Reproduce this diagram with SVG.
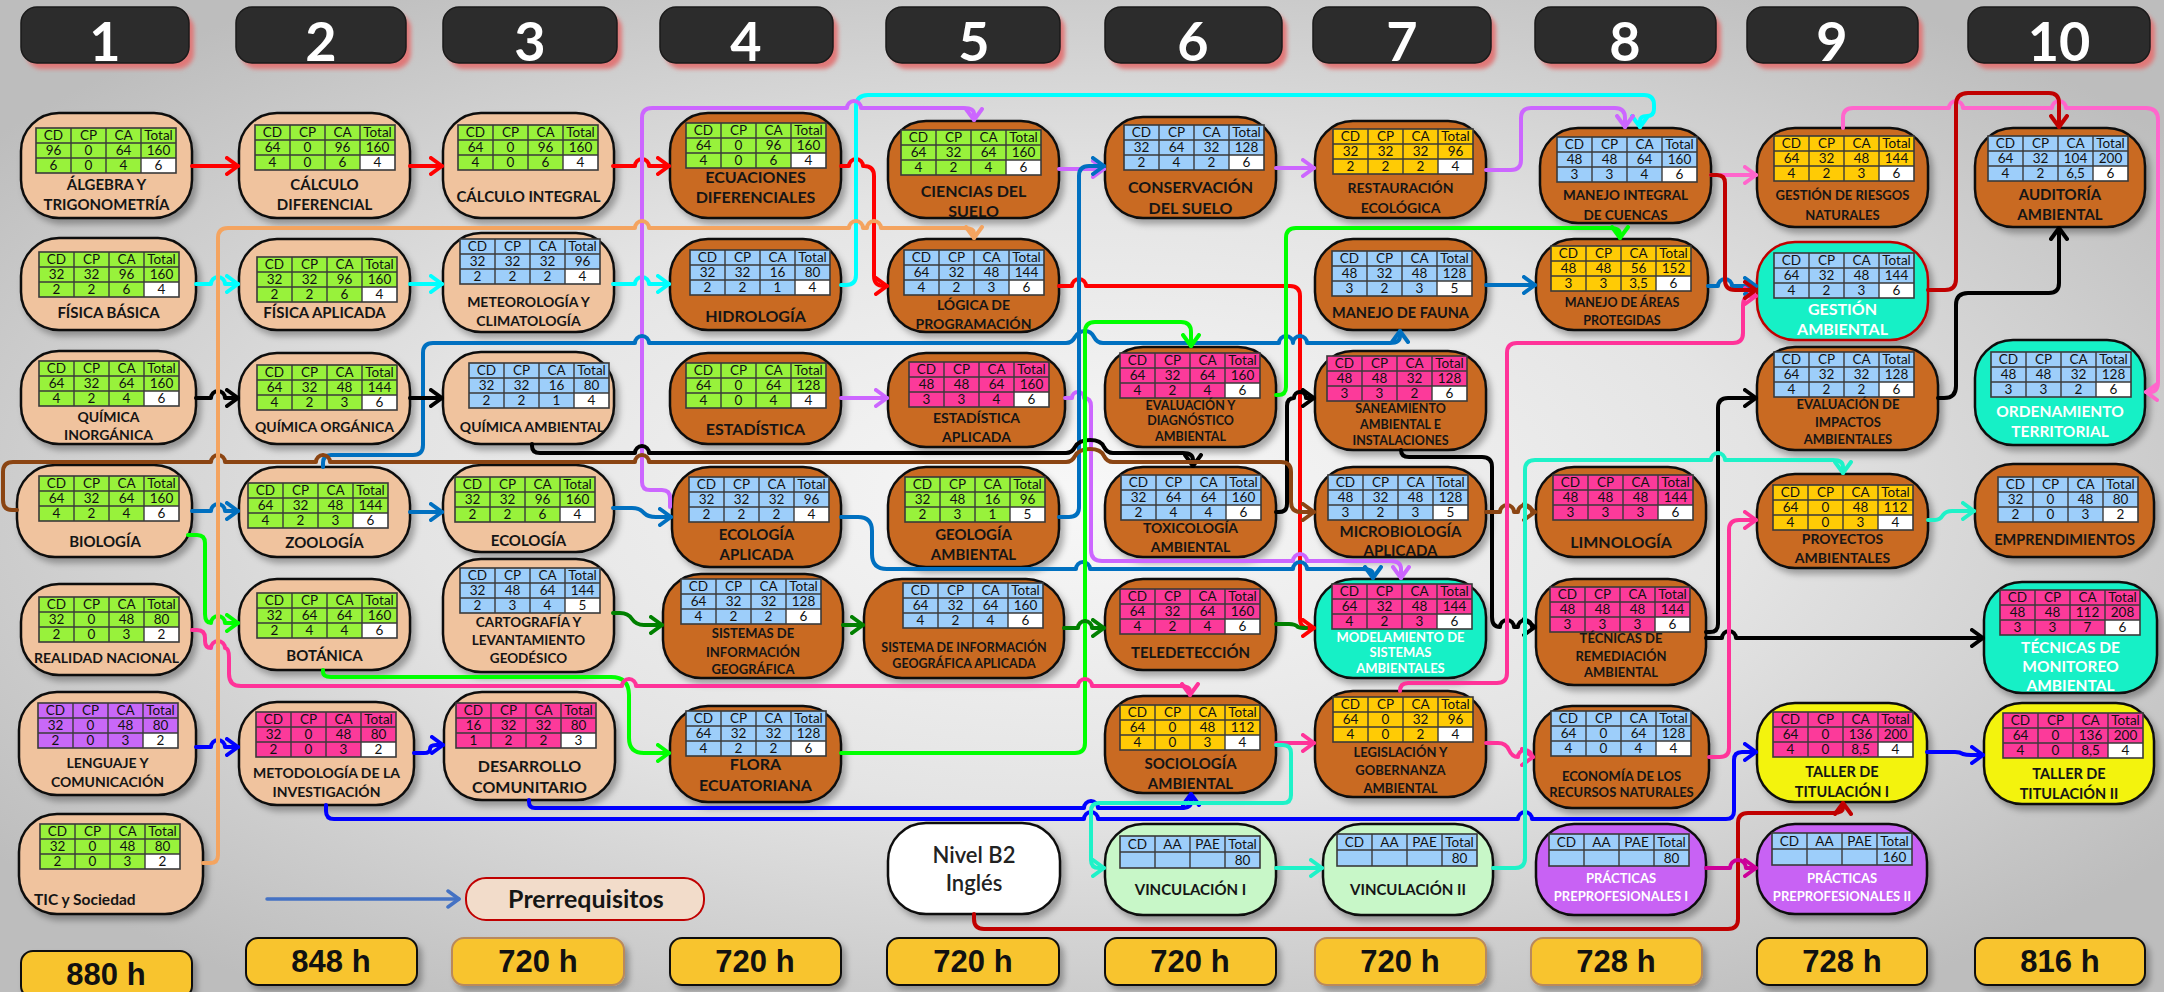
<svg xmlns="http://www.w3.org/2000/svg" width="2164" height="992" viewBox="0 0 2164 992">
<defs>
<radialGradient id="bg" cx="0.5" cy="0.5" r="0.62"><stop offset="0" stop-color="#f8f8f8"/><stop offset="0.5" stop-color="#e4e4e4"/><stop offset="1" stop-color="#bdbdbd"/></radialGradient>
<filter id="sh" x="-10%" y="-10%" width="130%" height="140%"><feDropShadow dx="4" dy="5" stdDeviation="3" flood-color="#000" flood-opacity="0.3"/></filter>
<filter id="hb" x="-10%" y="-20%" width="130%" height="160%"><feGaussianBlur stdDeviation="2"/></filter>
<g id="g3"><rect width="140" height="45" fill="none" stroke="#3a3a3a" stroke-width="1.6"/><path d="M35,0V45M70,0V45M105,0V45M0,15H140M0,30H140" stroke="#3a3a3a" stroke-width="1.4"/></g>
<g id="g2"><rect width="140" height="32" fill="none" stroke="#3a3a3a" stroke-width="1.6"/><path d="M35,0V32M70,0V32M105,0V32M0,16H140" stroke="#3a3a3a" stroke-width="1.4"/></g>
<marker id="mR" viewBox="0 0 16 20" refX="13" refY="10" markerWidth="16" markerHeight="20" markerUnits="userSpaceOnUse" orient="auto"><path d="M2,2L13,10L2,18" fill="none" stroke="#ff0000" stroke-width="4" stroke-linecap="round" stroke-linejoin="round"/></marker>
<marker id="mDR" viewBox="0 0 16 20" refX="13" refY="10" markerWidth="16" markerHeight="20" markerUnits="userSpaceOnUse" orient="auto"><path d="M2,2L13,10L2,18" fill="none" stroke="#c00000" stroke-width="4" stroke-linecap="round" stroke-linejoin="round"/></marker>
<marker id="mC" viewBox="0 0 16 20" refX="13" refY="10" markerWidth="16" markerHeight="20" markerUnits="userSpaceOnUse" orient="auto"><path d="M2,2L13,10L2,18" fill="none" stroke="#00ffff" stroke-width="4" stroke-linecap="round" stroke-linejoin="round"/></marker>
<marker id="mK" viewBox="0 0 16 20" refX="13" refY="10" markerWidth="16" markerHeight="20" markerUnits="userSpaceOnUse" orient="auto"><path d="M2,2L13,10L2,18" fill="none" stroke="#000000" stroke-width="4" stroke-linecap="round" stroke-linejoin="round"/></marker>
<marker id="mB" viewBox="0 0 16 20" refX="13" refY="10" markerWidth="16" markerHeight="20" markerUnits="userSpaceOnUse" orient="auto"><path d="M2,2L13,10L2,18" fill="none" stroke="#0070c0" stroke-width="4" stroke-linecap="round" stroke-linejoin="round"/></marker>
<marker id="mBB" viewBox="0 0 16 20" refX="13" refY="10" markerWidth="16" markerHeight="20" markerUnits="userSpaceOnUse" orient="auto"><path d="M2,2L13,10L2,18" fill="none" stroke="#0000ff" stroke-width="4" stroke-linecap="round" stroke-linejoin="round"/></marker>
<marker id="mV" viewBox="0 0 16 20" refX="13" refY="10" markerWidth="16" markerHeight="20" markerUnits="userSpaceOnUse" orient="auto"><path d="M2,2L13,10L2,18" fill="none" stroke="#cc66ff" stroke-width="4" stroke-linecap="round" stroke-linejoin="round"/></marker>
<marker id="mO" viewBox="0 0 16 20" refX="13" refY="10" markerWidth="16" markerHeight="20" markerUnits="userSpaceOnUse" orient="auto"><path d="M2,2L13,10L2,18" fill="none" stroke="#f4a460" stroke-width="4" stroke-linecap="round" stroke-linejoin="round"/></marker>
<marker id="mBr" viewBox="0 0 16 20" refX="13" refY="10" markerWidth="16" markerHeight="20" markerUnits="userSpaceOnUse" orient="auto"><path d="M2,2L13,10L2,18" fill="none" stroke="#8b4513" stroke-width="4" stroke-linecap="round" stroke-linejoin="round"/></marker>
<marker id="mG" viewBox="0 0 16 20" refX="13" refY="10" markerWidth="16" markerHeight="20" markerUnits="userSpaceOnUse" orient="auto"><path d="M2,2L13,10L2,18" fill="none" stroke="#00ff00" stroke-width="4" stroke-linecap="round" stroke-linejoin="round"/></marker>
<marker id="mDG" viewBox="0 0 16 20" refX="13" refY="10" markerWidth="16" markerHeight="20" markerUnits="userSpaceOnUse" orient="auto"><path d="M2,2L13,10L2,18" fill="none" stroke="#008000" stroke-width="4" stroke-linecap="round" stroke-linejoin="round"/></marker>
<marker id="mP" viewBox="0 0 16 20" refX="13" refY="10" markerWidth="16" markerHeight="20" markerUnits="userSpaceOnUse" orient="auto"><path d="M2,2L13,10L2,18" fill="none" stroke="#ff3399" stroke-width="4" stroke-linecap="round" stroke-linejoin="round"/></marker>
<marker id="mLP" viewBox="0 0 16 20" refX="13" refY="10" markerWidth="16" markerHeight="20" markerUnits="userSpaceOnUse" orient="auto"><path d="M2,2L13,10L2,18" fill="none" stroke="#ff66cc" stroke-width="4" stroke-linecap="round" stroke-linejoin="round"/></marker>
<marker id="mT" viewBox="0 0 16 20" refX="13" refY="10" markerWidth="16" markerHeight="20" markerUnits="userSpaceOnUse" orient="auto"><path d="M2,2L13,10L2,18" fill="none" stroke="#1ef2c8" stroke-width="4" stroke-linecap="round" stroke-linejoin="round"/></marker>
<marker id="mM" viewBox="0 0 16 20" refX="13" refY="10" markerWidth="16" markerHeight="20" markerUnits="userSpaceOnUse" orient="auto"><path d="M2,2L13,10L2,18" fill="none" stroke="#cc0099" stroke-width="4" stroke-linecap="round" stroke-linejoin="round"/></marker>
<marker id="mL" viewBox="0 0 16 20" refX="13" refY="10" markerWidth="16" markerHeight="20" markerUnits="userSpaceOnUse" orient="auto"><path d="M2,2L13,10L2,18" fill="none" stroke="#4472c4" stroke-width="3.5" stroke-linecap="round" stroke-linejoin="round"/></marker>
</defs>
<style>
.n{stroke:#111;stroke-width:2.5;filter:url(#sh)}
.pe{fill:#f0c39e}.br{fill:#c96b20}.te{fill:#19f0c6}.lg{fill:#c8f7c8}.pu{fill:#c862f4}.ye{fill:#f3f30e}.wh{fill:#ffffff}
.cg{fill:#98f23b}.cb{fill:#9dcefa}.cy{fill:#ffcb05}.cp{fill:#fc3a9a}.cv{fill:#c868f8}.w{fill:#ffffff}
.tg text{font-family:Lato,'Liberation Sans',sans-serif;font-size:13.5px;text-anchor:middle;fill:#111}
.lb{font-family:Lato,'Liberation Sans',sans-serif;font-weight:700;text-anchor:middle;fill:#151515}
.wt{fill:#ffffff}
.f12{font-size:12.5px}.f13{font-size:13px}.f135{font-size:13.5px}.f14{font-size:14px}.f145{font-size:14.5px}.f15{font-size:15px}.f155{font-size:15.5px}.f16{font-size:16px}
.hd{fill:#2c2c2c;stroke:#1a1a1a;stroke-width:1.5}
.hdsh{fill:#e07878;filter:url(#hb)}
.hn{font-family:Lato,'Liberation Sans',sans-serif;font-weight:700;font-size:54px;fill:#ffffff;text-anchor:middle}
.hr{fill:#f8c42e;stroke:#111;stroke-width:2;filter:url(#sh)}
.hr2{fill:#f8c42e;stroke:#b9895b;stroke-width:2;filter:url(#sh)}
.ht{font-family:'Liberation Sans',Arial,sans-serif;font-weight:700;font-size:31px;fill:#111;text-anchor:middle}
</style>
<rect width="2164" height="992" fill="url(#bg)"/>

<g id="headers">
<rect class="hdsh" x="26" y="13" width="168" height="56" rx="16"/><rect class="hd" x="21" y="7" width="168" height="56" rx="16"/><text class="hn" x="105" y="61">1</text>
<rect class="hdsh" x="241" y="13" width="170" height="56" rx="16"/><rect class="hd" x="236" y="7" width="170" height="56" rx="16"/><text class="hn" x="321" y="61">2</text>
<rect class="hdsh" x="448" y="13" width="174" height="56" rx="16"/><rect class="hd" x="443" y="7" width="174" height="56" rx="16"/><text class="hn" x="530" y="61">3</text>
<rect class="hdsh" x="665" y="13" width="173" height="56" rx="16"/><rect class="hd" x="660" y="7" width="173" height="56" rx="16"/><text class="hn" x="746" y="61">4</text>
<rect class="hdsh" x="891" y="13" width="174" height="56" rx="16"/><rect class="hd" x="886" y="7" width="174" height="56" rx="16"/><text class="hn" x="974" y="61">5</text>
<rect class="hdsh" x="1110" y="13" width="177" height="56" rx="16"/><rect class="hd" x="1105" y="7" width="177" height="56" rx="16"/><text class="hn" x="1193" y="61">6</text>
<rect class="hdsh" x="1318" y="13" width="178" height="56" rx="16"/><rect class="hd" x="1313" y="7" width="178" height="56" rx="16"/><text class="hn" x="1402" y="61">7</text>
<rect class="hdsh" x="1540" y="13" width="181" height="56" rx="16"/><rect class="hd" x="1535" y="7" width="181" height="56" rx="16"/><text class="hn" x="1625" y="61">8</text>
<rect class="hdsh" x="1752" y="13" width="171" height="56" rx="16"/><rect class="hd" x="1747" y="7" width="171" height="56" rx="16"/><text class="hn" x="1832" y="61">9</text>
<rect class="hdsh" x="1973" y="13" width="182" height="56" rx="16"/><rect class="hd" x="1968" y="7" width="182" height="56" rx="16"/><text class="hn" x="2059" y="61">10</text>
</g>

<g id="hours">
<rect class="hr" x="21" y="951" width="171" height="47" rx="12"/><text class="ht" x="106" y="985">880 h</text>
<rect class="hr" x="246" y="938" width="171" height="47" rx="12"/><text class="ht" x="331" y="972">848 h</text>
<rect class="hr2" x="452" y="938" width="172" height="47" rx="12"/><text class="ht" x="538" y="972">720 h</text>
<rect class="hr" x="670" y="938" width="171" height="47" rx="12"/><text class="ht" x="755" y="972">720 h</text>
<rect class="hr" x="887" y="938" width="172" height="47" rx="12"/><text class="ht" x="973" y="972">720 h</text>
<rect class="hr" x="1105" y="938" width="171" height="47" rx="12"/><text class="ht" x="1190" y="972">720 h</text>
<rect class="hr2" x="1315" y="938" width="171" height="47" rx="12"/><text class="ht" x="1400" y="972">720 h</text>
<rect class="hr2" x="1531" y="938" width="171" height="47" rx="12"/><text class="ht" x="1616" y="972">728 h</text>
<rect class="hr" x="1757" y="938" width="170" height="47" rx="12"/><text class="ht" x="1842" y="972">728 h</text>
<rect class="hr" x="1975" y="938" width="170" height="47" rx="12"/><text class="ht" x="2060" y="972">816 h</text>
</g>

<g id="legend">
<path d="M267,899H459" fill="none" stroke="#4472c4" stroke-width="3.5" stroke-linecap="round" marker-end="url(#mL)"/>
<rect x="466" y="878" width="238" height="42" rx="20" fill="#f2dcca" stroke="#c00000" stroke-width="2"/>
<text x="586" y="908" style="font-family:Lato,'Liberation Sans',sans-serif;font-weight:700;font-size:25px;fill:#151515;text-anchor:middle">Prerrequisitos</text>
</g>

<!-- Column 1 -->
<g id="n-algebra"><rect class="n pe" x="21" y="113" width="171" height="105" rx="38"/>
<g class="tg" transform="translate(36,128)"><rect class="cg" width="140" height="45"/><rect class="w" x="105" y="30" width="35" height="15"/><use href="#g3"/><text x="17.5" y="12">CD</text><text x="52.5" y="12">CP</text><text x="87.5" y="12">CA</text><text x="122.5" y="12">Total</text><text x="17.5" y="27">96</text><text x="52.5" y="27">0</text><text x="87.5" y="27">64</text><text x="122.5" y="27">160</text><text x="17.5" y="42">6</text><text x="52.5" y="42">0</text><text x="87.5" y="42">4</text><text x="122.5" y="42">6</text></g>
<text class="lb f15" x="106.5" y="190">ÁLGEBRA Y</text><text class="lb f15" x="106.5" y="210">TRIGONOMETRÍA</text></g>

<g id="n-fisica-basica"><rect class="n pe" x="21" y="238" width="175" height="92" rx="38"/>
<g class="tg" transform="translate(39,252)"><rect class="cg" width="140" height="45"/><rect class="w" x="105" y="30" width="35" height="15"/><use href="#g3"/><text x="17.5" y="12">CD</text><text x="52.5" y="12">CP</text><text x="87.5" y="12">CA</text><text x="122.5" y="12">Total</text><text x="17.5" y="27">32</text><text x="52.5" y="27">32</text><text x="87.5" y="27">96</text><text x="122.5" y="27">160</text><text x="17.5" y="42">2</text><text x="52.5" y="42">2</text><text x="87.5" y="42">6</text><text x="122.5" y="42">4</text></g>
<text class="lb f15" x="108.5" y="318">FÍSICA BÁSICA</text></g>

<g id="n-quimica-inorganica"><rect class="n pe" x="21" y="351" width="175" height="93" rx="38"/>
<g class="tg" transform="translate(39,361)"><rect class="cg" width="140" height="45"/><rect class="w" x="105" y="30" width="35" height="15"/><use href="#g3"/><text x="17.5" y="12">CD</text><text x="52.5" y="12">CP</text><text x="87.5" y="12">CA</text><text x="122.5" y="12">Total</text><text x="17.5" y="27">64</text><text x="52.5" y="27">32</text><text x="87.5" y="27">64</text><text x="122.5" y="27">160</text><text x="17.5" y="42">4</text><text x="52.5" y="42">2</text><text x="87.5" y="42">4</text><text x="122.5" y="42">6</text></g>
<text class="lb f14" x="108.5" y="422">QUÍMICA</text><text class="lb f14" x="108.5" y="440">INORGÁNICA</text></g>

<g id="n-biologia"><rect class="n pe" x="17" y="465" width="175" height="92" rx="38"/>
<g class="tg" transform="translate(39,476)"><rect class="cg" width="140" height="45"/><rect class="w" x="105" y="30" width="35" height="15"/><use href="#g3"/><text x="17.5" y="12">CD</text><text x="52.5" y="12">CP</text><text x="87.5" y="12">CA</text><text x="122.5" y="12">Total</text><text x="17.5" y="27">64</text><text x="52.5" y="27">32</text><text x="87.5" y="27">64</text><text x="122.5" y="27">160</text><text x="17.5" y="42">4</text><text x="52.5" y="42">2</text><text x="87.5" y="42">4</text><text x="122.5" y="42">6</text></g>
<text class="lb f15" x="105" y="547">BIOLOGÍA</text></g>

<g id="n-realidad-nacional"><rect class="n pe" x="21" y="584" width="171" height="91" rx="38"/>
<g class="tg" transform="translate(39,597)"><rect class="cg" width="140" height="45"/><rect class="w" x="105" y="30" width="35" height="15"/><use href="#g3"/><text x="17.5" y="12">CD</text><text x="52.5" y="12">CP</text><text x="87.5" y="12">CA</text><text x="122.5" y="12">Total</text><text x="17.5" y="27">32</text><text x="52.5" y="27">0</text><text x="87.5" y="27">48</text><text x="122.5" y="27">80</text><text x="17.5" y="42">2</text><text x="52.5" y="42">0</text><text x="87.5" y="42">3</text><text x="122.5" y="42">2</text></g>
<text class="lb f14" x="106.5" y="663">REALIDAD NACIONAL</text></g>

<g id="n-lenguaje"><rect class="n pe" x="19" y="692" width="177" height="103" rx="38"/>
<g class="tg" transform="translate(38,703)"><rect class="cv" width="140" height="45"/><rect class="w" x="105" y="30" width="35" height="15"/><use href="#g3"/><text x="17.5" y="12">CD</text><text x="52.5" y="12">CP</text><text x="87.5" y="12">CA</text><text x="122.5" y="12">Total</text><text x="17.5" y="27">32</text><text x="52.5" y="27">0</text><text x="87.5" y="27">48</text><text x="122.5" y="27">80</text><text x="17.5" y="42">2</text><text x="52.5" y="42">0</text><text x="87.5" y="42">3</text><text x="122.5" y="42">2</text></g>
<text class="lb f14" x="107.5" y="768">LENGUAJE Y</text><text class="lb f14" x="107.5" y="787">COMUNICACIÓN</text></g>

<g id="n-tic"><rect class="n pe" x="19" y="814" width="184" height="100" rx="38"/>
<g class="tg" transform="translate(40,824)"><rect class="cg" width="140" height="45"/><rect class="w" x="105" y="30" width="35" height="15"/><use href="#g3"/><text x="17.5" y="12">CD</text><text x="52.5" y="12">CP</text><text x="87.5" y="12">CA</text><text x="122.5" y="12">Total</text><text x="17.5" y="27">32</text><text x="52.5" y="27">0</text><text x="87.5" y="27">48</text><text x="122.5" y="27">80</text><text x="17.5" y="42">2</text><text x="52.5" y="42">0</text><text x="87.5" y="42">3</text><text x="122.5" y="42">2</text></g>
<text class="lb f155" x="34" y="905" style="text-anchor:start">TIC y Sociedad</text></g>

<!-- Column 2 -->
<g id="n-calculo-diferencial"><rect class="n pe" x="239" y="113" width="171" height="105" rx="38"/>
<g class="tg" transform="translate(255,125)"><rect class="cg" width="140" height="45"/><rect class="w" x="105" y="30" width="35" height="15"/><use href="#g3"/><text x="17.5" y="12">CD</text><text x="52.5" y="12">CP</text><text x="87.5" y="12">CA</text><text x="122.5" y="12">Total</text><text x="17.5" y="27">64</text><text x="52.5" y="27">0</text><text x="87.5" y="27">96</text><text x="122.5" y="27">160</text><text x="17.5" y="42">4</text><text x="52.5" y="42">0</text><text x="87.5" y="42">6</text><text x="122.5" y="42">4</text></g>
<text class="lb f15" x="324.5" y="190">CÁLCULO</text><text class="lb f15" x="324.5" y="210">DIFERENCIAL</text></g>

<g id="n-fisica-aplicada"><rect class="n pe" x="239" y="239" width="171" height="91" rx="38"/>
<g class="tg" transform="translate(257,257)"><rect class="cg" width="140" height="45"/><rect class="w" x="105" y="30" width="35" height="15"/><use href="#g3"/><text x="17.5" y="12">CD</text><text x="52.5" y="12">CP</text><text x="87.5" y="12">CA</text><text x="122.5" y="12">Total</text><text x="17.5" y="27">32</text><text x="52.5" y="27">32</text><text x="87.5" y="27">96</text><text x="122.5" y="27">160</text><text x="17.5" y="42">2</text><text x="52.5" y="42">2</text><text x="87.5" y="42">6</text><text x="122.5" y="42">4</text></g>
<text class="lb f15" x="324.5" y="318">FÍSICA APLICADA</text></g>

<g id="n-quimica-organica"><rect class="n pe" x="239" y="353" width="171" height="91" rx="38"/>
<g class="tg" transform="translate(257,365)"><rect class="cg" width="140" height="45"/><rect class="w" x="105" y="30" width="35" height="15"/><use href="#g3"/><text x="17.5" y="12">CD</text><text x="52.5" y="12">CP</text><text x="87.5" y="12">CA</text><text x="122.5" y="12">Total</text><text x="17.5" y="27">64</text><text x="52.5" y="27">32</text><text x="87.5" y="27">48</text><text x="122.5" y="27">144</text><text x="17.5" y="42">4</text><text x="52.5" y="42">2</text><text x="87.5" y="42">3</text><text x="122.5" y="42">6</text></g>
<text class="lb f14" x="324.5" y="432">QUÍMICA ORGÁNICA</text></g>

<g id="n-zoologia"><rect class="n pe" x="239" y="467" width="171" height="90" rx="38"/>
<g class="tg" transform="translate(248,483)"><rect class="cg" width="140" height="45"/><rect class="w" x="105" y="30" width="35" height="15"/><use href="#g3"/><text x="17.5" y="12">CD</text><text x="52.5" y="12">CP</text><text x="87.5" y="12">CA</text><text x="122.5" y="12">Total</text><text x="17.5" y="27">64</text><text x="52.5" y="27">32</text><text x="87.5" y="27">48</text><text x="122.5" y="27">144</text><text x="17.5" y="42">4</text><text x="52.5" y="42">2</text><text x="87.5" y="42">3</text><text x="122.5" y="42">6</text></g>
<text class="lb f15" x="324.5" y="548">ZOOLOGÍA</text></g>

<g id="n-botanica"><rect class="n pe" x="239" y="579" width="171" height="91" rx="38"/>
<g class="tg" transform="translate(257,593)"><rect class="cg" width="140" height="45"/><rect class="w" x="105" y="30" width="35" height="15"/><use href="#g3"/><text x="17.5" y="12">CD</text><text x="52.5" y="12">CP</text><text x="87.5" y="12">CA</text><text x="122.5" y="12">Total</text><text x="17.5" y="27">32</text><text x="52.5" y="27">64</text><text x="87.5" y="27">64</text><text x="122.5" y="27">160</text><text x="17.5" y="42">2</text><text x="52.5" y="42">4</text><text x="87.5" y="42">4</text><text x="122.5" y="42">6</text></g>
<text class="lb f15" x="324.5" y="661">BOTÁNICA</text></g>

<g id="n-metodologia"><rect class="n pe" x="239" y="702" width="175" height="103" rx="38"/>
<g class="tg" transform="translate(256,712)"><rect class="cp" width="140" height="45"/><rect class="w" x="105" y="30" width="35" height="15"/><use href="#g3"/><text x="17.5" y="12">CD</text><text x="52.5" y="12">CP</text><text x="87.5" y="12">CA</text><text x="122.5" y="12">Total</text><text x="17.5" y="27">32</text><text x="52.5" y="27">0</text><text x="87.5" y="27">48</text><text x="122.5" y="27">80</text><text x="17.5" y="42">2</text><text x="52.5" y="42">0</text><text x="87.5" y="42">3</text><text x="122.5" y="42">2</text></g>
<text class="lb f14" x="326.5" y="778">METODOLOGÍA DE LA</text><text class="lb f14" x="326.5" y="797">INVESTIGACIÓN</text></g>

<!-- Column 3 -->
<g id="n-calculo-integral"><rect class="n pe" x="443" y="113" width="171" height="105" rx="38"/>
<g class="tg" transform="translate(458,125)"><rect class="cg" width="140" height="45"/><rect class="w" x="105" y="30" width="35" height="15"/><use href="#g3"/><text x="17.5" y="12">CD</text><text x="52.5" y="12">CP</text><text x="87.5" y="12">CA</text><text x="122.5" y="12">Total</text><text x="17.5" y="27">64</text><text x="52.5" y="27">0</text><text x="87.5" y="27">96</text><text x="122.5" y="27">160</text><text x="17.5" y="42">4</text><text x="52.5" y="42">0</text><text x="87.5" y="42">6</text><text x="122.5" y="42">4</text></g>
<text class="lb f15" x="528.5" y="202">CÁLCULO INTEGRAL</text></g>

<g id="n-meteorologia"><rect class="n pe" x="443" y="233" width="171" height="99" rx="38"/>
<g class="tg" transform="translate(460,239)"><rect class="cb" width="140" height="45"/><rect class="w" x="105" y="30" width="35" height="15"/><use href="#g3"/><text x="17.5" y="12">CD</text><text x="52.5" y="12">CP</text><text x="87.5" y="12">CA</text><text x="122.5" y="12">Total</text><text x="17.5" y="27">32</text><text x="52.5" y="27">32</text><text x="87.5" y="27">32</text><text x="122.5" y="27">96</text><text x="17.5" y="42">2</text><text x="52.5" y="42">2</text><text x="87.5" y="42">2</text><text x="122.5" y="42">4</text></g>
<text class="lb f14" x="528.5" y="307">METEOROLOGÍA Y</text><text class="lb f14" x="528.5" y="326">CLIMATOLOGÍA</text></g>

<g id="n-quimica-ambiental"><rect class="n pe" x="443" y="352" width="171" height="92" rx="38"/>
<g class="tg" transform="translate(469,363)"><rect class="cb" width="140" height="45"/><rect class="w" x="105" y="30" width="35" height="15"/><use href="#g3"/><text x="17.5" y="12">CD</text><text x="52.5" y="12">CP</text><text x="87.5" y="12">CA</text><text x="122.5" y="12">Total</text><text x="17.5" y="27">32</text><text x="52.5" y="27">32</text><text x="87.5" y="27">16</text><text x="122.5" y="27">80</text><text x="17.5" y="42">2</text><text x="52.5" y="42">2</text><text x="87.5" y="42">1</text><text x="122.5" y="42">4</text></g>
<text class="lb f14" x="532" y="432">QUÍMICA AMBIENTAL</text></g>

<g id="n-ecologia"><rect class="n pe" x="443" y="465" width="171" height="87" rx="38"/>
<g class="tg" transform="translate(455,477)"><rect class="cg" width="140" height="45"/><rect class="w" x="105" y="30" width="35" height="15"/><use href="#g3"/><text x="17.5" y="12">CD</text><text x="52.5" y="12">CP</text><text x="87.5" y="12">CA</text><text x="122.5" y="12">Total</text><text x="17.5" y="27">32</text><text x="52.5" y="27">32</text><text x="87.5" y="27">96</text><text x="122.5" y="27">160</text><text x="17.5" y="42">2</text><text x="52.5" y="42">2</text><text x="87.5" y="42">6</text><text x="122.5" y="42">4</text></g>
<text class="lb f15" x="528.5" y="546">ECOLOGÍA</text></g>

<g id="n-cartografia"><rect class="n pe" x="443" y="559" width="171" height="113" rx="38"/>
<g class="tg" transform="translate(460,568)"><rect class="cb" width="140" height="45"/><rect class="w" x="105" y="30" width="35" height="15"/><use href="#g3"/><text x="17.5" y="12">CD</text><text x="52.5" y="12">CP</text><text x="87.5" y="12">CA</text><text x="122.5" y="12">Total</text><text x="17.5" y="27">32</text><text x="52.5" y="27">48</text><text x="87.5" y="27">64</text><text x="122.5" y="27">144</text><text x="17.5" y="42">2</text><text x="52.5" y="42">3</text><text x="87.5" y="42">4</text><text x="122.5" y="42">5</text></g>
<text class="lb f135" x="528.5" y="627">CARTOGRAFÍA Y</text><text class="lb f135" x="528.5" y="645">LEVANTAMIENTO</text><text class="lb f135" x="528.5" y="663">GEODÉSICO</text></g>

<g id="n-desarrollo-comunitario"><rect class="n pe" x="444" y="692" width="171" height="108" rx="38"/>
<g class="tg" transform="translate(456,703)"><rect class="cp" width="140" height="45"/><rect class="w" x="105" y="30" width="35" height="15"/><use href="#g3"/><text x="17.5" y="12">CD</text><text x="52.5" y="12">CP</text><text x="87.5" y="12">CA</text><text x="122.5" y="12">Total</text><text x="17.5" y="27">16</text><text x="52.5" y="27">32</text><text x="87.5" y="27">32</text><text x="122.5" y="27">80</text><text x="17.5" y="42">1</text><text x="52.5" y="42">2</text><text x="87.5" y="42">2</text><text x="122.5" y="42">3</text></g>
<text class="lb f16" x="529.5" y="772">DESARROLLO</text><text class="lb f16" x="529.5" y="793">COMUNITARIO</text></g>

<!-- Column 4 -->
<g id="n-ecuaciones"><rect class="n br" x="670" y="113" width="171" height="105" rx="38"/>
<g class="tg" transform="translate(686,123)"><rect class="cg" width="140" height="45"/><rect class="w" x="105" y="30" width="35" height="15"/><use href="#g3"/><text x="17.5" y="12">CD</text><text x="52.5" y="12">CP</text><text x="87.5" y="12">CA</text><text x="122.5" y="12">Total</text><text x="17.5" y="27">64</text><text x="52.5" y="27">0</text><text x="87.5" y="27">96</text><text x="122.5" y="27">160</text><text x="17.5" y="42">4</text><text x="52.5" y="42">0</text><text x="87.5" y="42">6</text><text x="122.5" y="42">4</text></g>
<text class="lb f16" x="755.5" y="183">ECUACIONES</text><text class="lb f16" x="755.5" y="203">DIFERENCIALES</text></g>

<g id="n-hidrologia"><rect class="n br" x="670" y="239" width="171" height="91" rx="38"/>
<g class="tg" transform="translate(690,250)"><rect class="cb" width="140" height="45"/><rect class="w" x="105" y="30" width="35" height="15"/><use href="#g3"/><text x="17.5" y="12">CD</text><text x="52.5" y="12">CP</text><text x="87.5" y="12">CA</text><text x="122.5" y="12">Total</text><text x="17.5" y="27">32</text><text x="52.5" y="27">32</text><text x="87.5" y="27">16</text><text x="122.5" y="27">80</text><text x="17.5" y="42">2</text><text x="52.5" y="42">2</text><text x="87.5" y="42">1</text><text x="122.5" y="42">4</text></g>
<text class="lb f16" x="755.5" y="322">HIDROLOGÍA</text></g>

<g id="n-estadistica"><rect class="n br" x="670" y="353" width="171" height="91" rx="38"/>
<g class="tg" transform="translate(686,363)"><rect class="cg" width="140" height="45"/><rect class="w" x="105" y="30" width="35" height="15"/><use href="#g3"/><text x="17.5" y="12">CD</text><text x="52.5" y="12">CP</text><text x="87.5" y="12">CA</text><text x="122.5" y="12">Total</text><text x="17.5" y="27">64</text><text x="52.5" y="27">0</text><text x="87.5" y="27">64</text><text x="122.5" y="27">128</text><text x="17.5" y="42">4</text><text x="52.5" y="42">0</text><text x="87.5" y="42">4</text><text x="122.5" y="42">4</text></g>
<text class="lb f16" x="755.5" y="435">ESTADÍSTICA</text></g>

<g id="n-ecologia-aplicada"><rect class="n br" x="672" y="467" width="169" height="100" rx="38"/>
<g class="tg" transform="translate(689,477)"><rect class="cb" width="140" height="45"/><rect class="w" x="105" y="30" width="35" height="15"/><use href="#g3"/><text x="17.5" y="12">CD</text><text x="52.5" y="12">CP</text><text x="87.5" y="12">CA</text><text x="122.5" y="12">Total</text><text x="17.5" y="27">32</text><text x="52.5" y="27">32</text><text x="87.5" y="27">32</text><text x="122.5" y="27">96</text><text x="17.5" y="42">2</text><text x="52.5" y="42">2</text><text x="87.5" y="42">2</text><text x="122.5" y="42">4</text></g>
<text class="lb f15" x="756.5" y="540">ECOLOGÍA</text><text class="lb f15" x="756.5" y="560">APLICADA</text></g>

<g id="n-sig"><rect class="n br" x="663" y="574" width="180" height="104" rx="38"/>
<g class="tg" transform="translate(681,579)"><rect class="cb" width="140" height="45"/><rect class="w" x="105" y="30" width="35" height="15"/><use href="#g3"/><text x="17.5" y="12">CD</text><text x="52.5" y="12">CP</text><text x="87.5" y="12">CA</text><text x="122.5" y="12">Total</text><text x="17.5" y="27">64</text><text x="52.5" y="27">32</text><text x="87.5" y="27">32</text><text x="122.5" y="27">128</text><text x="17.5" y="42">4</text><text x="52.5" y="42">2</text><text x="87.5" y="42">2</text><text x="122.5" y="42">6</text></g>
<text class="lb f13" x="753" y="638">SISTEMAS DE</text><text class="lb f13" x="753" y="657">INFORMACIÓN</text><text class="lb f13" x="753" y="674">GEOGRÁFICA</text></g>

<g id="n-flora"><rect class="n br" x="670" y="706" width="171" height="96" rx="38"/>
<g class="tg" transform="translate(686,711)"><rect class="cb" width="140" height="45"/><rect class="w" x="105" y="30" width="35" height="15"/><use href="#g3"/><text x="17.5" y="12">CD</text><text x="52.5" y="12">CP</text><text x="87.5" y="12">CA</text><text x="122.5" y="12">Total</text><text x="17.5" y="27">64</text><text x="52.5" y="27">32</text><text x="87.5" y="27">32</text><text x="122.5" y="27">128</text><text x="17.5" y="42">4</text><text x="52.5" y="42">2</text><text x="87.5" y="42">2</text><text x="122.5" y="42">6</text></g>
<text class="lb f16" x="755.5" y="770">FLORA</text><text class="lb f16" x="755.5" y="791">ECUATORIANA</text></g>

<!-- Column 5 -->
<g id="n-ciencias-suelo"><rect class="n br" x="888" y="121" width="171" height="97" rx="38"/>
<g class="tg" transform="translate(901,130)"><rect class="cg" width="140" height="45"/><rect class="w" x="105" y="30" width="35" height="15"/><use href="#g3"/><text x="17.5" y="12">CD</text><text x="52.5" y="12">CP</text><text x="87.5" y="12">CA</text><text x="122.5" y="12">Total</text><text x="17.5" y="27">64</text><text x="52.5" y="27">32</text><text x="87.5" y="27">64</text><text x="122.5" y="27">160</text><text x="17.5" y="42">4</text><text x="52.5" y="42">2</text><text x="87.5" y="42">4</text><text x="122.5" y="42">6</text></g>
<text class="lb f16" x="973.5" y="197">CIENCIAS DEL</text><text class="lb f16" x="973.5" y="217">SUELO</text></g>

<g id="n-logica"><rect class="n br" x="888" y="239" width="171" height="93" rx="38"/>
<g class="tg" transform="translate(904,250)"><rect class="cb" width="140" height="45"/><rect class="w" x="105" y="30" width="35" height="15"/><use href="#g3"/><text x="17.5" y="12">CD</text><text x="52.5" y="12">CP</text><text x="87.5" y="12">CA</text><text x="122.5" y="12">Total</text><text x="17.5" y="27">64</text><text x="52.5" y="27">32</text><text x="87.5" y="27">48</text><text x="122.5" y="27">144</text><text x="17.5" y="42">4</text><text x="52.5" y="42">2</text><text x="87.5" y="42">3</text><text x="122.5" y="42">6</text></g>
<text class="lb f14" x="973.5" y="310">LÓGICA DE</text><text class="lb f14" x="973.5" y="329">PROGRAMACIÓN</text></g>

<g id="n-estadistica-aplicada"><rect class="n br" x="888" y="353" width="177" height="94" rx="38"/>
<g class="tg" transform="translate(909,362)"><rect class="cp" width="140" height="45"/><rect class="w" x="105" y="30" width="35" height="15"/><use href="#g3"/><text x="17.5" y="12">CD</text><text x="52.5" y="12">CP</text><text x="87.5" y="12">CA</text><text x="122.5" y="12">Total</text><text x="17.5" y="27">48</text><text x="52.5" y="27">48</text><text x="87.5" y="27">64</text><text x="122.5" y="27">160</text><text x="17.5" y="42">3</text><text x="52.5" y="42">3</text><text x="87.5" y="42">4</text><text x="122.5" y="42">6</text></g>
<text class="lb f14" x="976.5" y="423">ESTADÍSTICA</text><text class="lb f14" x="976.5" y="442">APLICADA</text></g>

<g id="n-geologia"><rect class="n br" x="888" y="467" width="171" height="100" rx="38"/>
<g class="tg" transform="translate(905,477)"><rect class="cg" width="140" height="45"/><rect class="w" x="105" y="30" width="35" height="15"/><use href="#g3"/><text x="17.5" y="12">CD</text><text x="52.5" y="12">CP</text><text x="87.5" y="12">CA</text><text x="122.5" y="12">Total</text><text x="17.5" y="27">32</text><text x="52.5" y="27">48</text><text x="87.5" y="27">16</text><text x="122.5" y="27">96</text><text x="17.5" y="42">2</text><text x="52.5" y="42">3</text><text x="87.5" y="42">1</text><text x="122.5" y="42">5</text></g>
<text class="lb f15" x="973.5" y="540">GEOLOGÍA</text><text class="lb f15" x="973.5" y="560">AMBIENTAL</text></g>

<g id="n-sig-aplicada"><rect class="n br" x="864" y="579" width="200" height="99" rx="38"/>
<g class="tg" transform="translate(903,583)"><rect class="cb" width="140" height="45"/><rect class="w" x="105" y="30" width="35" height="15"/><use href="#g3"/><text x="17.5" y="12">CD</text><text x="52.5" y="12">CP</text><text x="87.5" y="12">CA</text><text x="122.5" y="12">Total</text><text x="17.5" y="27">64</text><text x="52.5" y="27">32</text><text x="87.5" y="27">64</text><text x="122.5" y="27">160</text><text x="17.5" y="42">4</text><text x="52.5" y="42">2</text><text x="87.5" y="42">4</text><text x="122.5" y="42">6</text></g>
<text class="lb f12" x="964" y="652">SISTEMA DE INFORMACIÓN</text><text class="lb f12" x="964" y="668">GEOGRÁFICA APLICADA</text></g>

<g id="n-nivel-b2"><rect class="n wh" x="888" y="823" width="172" height="91" rx="38"/>
<text x="974" y="863" style="font-family:Lato,'Liberation Sans',sans-serif;font-weight:600;font-size:22px;fill:#222;text-anchor:middle">Nivel B2</text>
<text x="974" y="891" style="font-family:Lato,'Liberation Sans',sans-serif;font-weight:600;font-size:22px;fill:#222;text-anchor:middle">Inglés</text></g>

<!-- Column 6 -->
<g id="n-conservacion"><rect class="n br" x="1105" y="117" width="171" height="101" rx="38"/>
<g class="tg" transform="translate(1124,125)"><rect class="cb" width="140" height="45"/><rect class="w" x="105" y="30" width="35" height="15"/><use href="#g3"/><text x="17.5" y="12">CD</text><text x="52.5" y="12">CP</text><text x="87.5" y="12">CA</text><text x="122.5" y="12">Total</text><text x="17.5" y="27">32</text><text x="52.5" y="27">64</text><text x="87.5" y="27">32</text><text x="122.5" y="27">128</text><text x="17.5" y="42">2</text><text x="52.5" y="42">4</text><text x="87.5" y="42">2</text><text x="122.5" y="42">6</text></g>
<text class="lb f16" x="1190.5" y="193">CONSERVACIÓN</text><text class="lb f16" x="1190.5" y="214">DEL SUELO</text></g>

<g id="n-evaluacion-diagnostico"><rect class="n br" x="1105" y="347" width="171" height="100" rx="38"/>
<g class="tg" transform="translate(1120,353)"><rect class="cp" width="140" height="45"/><rect class="w" x="105" y="30" width="35" height="15"/><use href="#g3"/><text x="17.5" y="12">CD</text><text x="52.5" y="12">CP</text><text x="87.5" y="12">CA</text><text x="122.5" y="12">Total</text><text x="17.5" y="27">64</text><text x="52.5" y="27">32</text><text x="87.5" y="27">64</text><text x="122.5" y="27">160</text><text x="17.5" y="42">4</text><text x="52.5" y="42">2</text><text x="87.5" y="42">4</text><text x="122.5" y="42">6</text></g>
<text class="lb f12" x="1190.5" y="410">EVALUACIÓN Y</text><text class="lb f12" x="1190.5" y="425">DIAGNÓSTICO</text><text class="lb f12" x="1190.5" y="441">AMBIENTAL</text></g>

<g id="n-toxicologia"><rect class="n br" x="1105" y="467" width="171" height="90" rx="38"/>
<g class="tg" transform="translate(1121,475)"><rect class="cb" width="140" height="45"/><rect class="w" x="105" y="30" width="35" height="15"/><use href="#g3"/><text x="17.5" y="12">CD</text><text x="52.5" y="12">CP</text><text x="87.5" y="12">CA</text><text x="122.5" y="12">Total</text><text x="17.5" y="27">32</text><text x="52.5" y="27">64</text><text x="87.5" y="27">64</text><text x="122.5" y="27">160</text><text x="17.5" y="42">2</text><text x="52.5" y="42">4</text><text x="87.5" y="42">4</text><text x="122.5" y="42">6</text></g>
<text class="lb f14" x="1190.5" y="533">TOXICOLOGÍA</text><text class="lb f14" x="1190.5" y="552">AMBIENTAL</text></g>

<g id="n-teledeteccion"><rect class="n br" x="1105" y="579" width="171" height="91" rx="38"/>
<g class="tg" transform="translate(1120,589)"><rect class="cp" width="140" height="45"/><rect class="w" x="105" y="30" width="35" height="15"/><use href="#g3"/><text x="17.5" y="12">CD</text><text x="52.5" y="12">CP</text><text x="87.5" y="12">CA</text><text x="122.5" y="12">Total</text><text x="17.5" y="27">64</text><text x="52.5" y="27">32</text><text x="87.5" y="27">64</text><text x="122.5" y="27">160</text><text x="17.5" y="42">4</text><text x="52.5" y="42">2</text><text x="87.5" y="42">4</text><text x="122.5" y="42">6</text></g>
<text class="lb f15" x="1190.5" y="658">TELEDETECCIÓN</text></g>

<g id="n-sociologia"><rect class="n br" x="1105" y="696" width="171" height="97" rx="38"/>
<g class="tg" transform="translate(1120,705)"><rect class="cy" width="140" height="45"/><rect class="w" x="105" y="30" width="35" height="15"/><use href="#g3"/><text x="17.5" y="12">CD</text><text x="52.5" y="12">CP</text><text x="87.5" y="12">CA</text><text x="122.5" y="12">Total</text><text x="17.5" y="27">64</text><text x="52.5" y="27">0</text><text x="87.5" y="27">48</text><text x="122.5" y="27">112</text><text x="17.5" y="42">4</text><text x="52.5" y="42">0</text><text x="87.5" y="42">3</text><text x="122.5" y="42">4</text></g>
<text class="lb f15" x="1190.5" y="769">SOCIOLOGÍA</text><text class="lb f15" x="1190.5" y="789">AMBIENTAL</text></g>

<g id="n-vinculacion-1"><rect class="n lg" x="1105" y="824" width="171" height="91" rx="38"/>
<g class="tg" transform="translate(1120,836)"><rect class="cb" width="140" height="32"/><use href="#g2"/><text x="17.5" y="13">CD</text><text x="52.5" y="13">AA</text><text x="87.5" y="13">PAE</text><text x="122.5" y="13">Total</text><text x="122.5" y="29">80</text></g>
<text class="lb f15" x="1190.5" y="895">VINCULACIÓN I</text></g>

<!-- Column 7 -->
<g id="n-restauracion"><rect class="n br" x="1315" y="121" width="171" height="97" rx="38"/>
<g class="tg" transform="translate(1333,129)"><rect class="cy" width="140" height="45"/><rect class="w" x="105" y="30" width="35" height="15"/><use href="#g3"/><text x="17.5" y="12">CD</text><text x="52.5" y="12">CP</text><text x="87.5" y="12">CA</text><text x="122.5" y="12">Total</text><text x="17.5" y="27">32</text><text x="52.5" y="27">32</text><text x="87.5" y="27">32</text><text x="122.5" y="27">96</text><text x="17.5" y="42">2</text><text x="52.5" y="42">2</text><text x="87.5" y="42">2</text><text x="122.5" y="42">4</text></g>
<text class="lb f14" x="1400.5" y="193">RESTAURACIÓN</text><text class="lb f14" x="1400.5" y="213">ECOLÓGICA</text></g>

<g id="n-manejo-fauna"><rect class="n br" x="1315" y="239" width="171" height="91" rx="38"/>
<g class="tg" transform="translate(1332,251)"><rect class="cb" width="140" height="45"/><rect class="w" x="105" y="30" width="35" height="15"/><use href="#g3"/><text x="17.5" y="12">CD</text><text x="52.5" y="12">CP</text><text x="87.5" y="12">CA</text><text x="122.5" y="12">Total</text><text x="17.5" y="27">48</text><text x="52.5" y="27">32</text><text x="87.5" y="27">48</text><text x="122.5" y="27">128</text><text x="17.5" y="42">3</text><text x="52.5" y="42">2</text><text x="87.5" y="42">3</text><text x="122.5" y="42">5</text></g>
<text class="lb f145" x="1400.5" y="318">MANEJO DE FAUNA</text></g>

<g id="n-saneamiento"><rect class="n br" x="1315" y="351" width="171" height="99" rx="38"/>
<g class="tg" transform="translate(1327,356)"><rect class="cp" width="140" height="45"/><rect class="w" x="105" y="30" width="35" height="15"/><use href="#g3"/><text x="17.5" y="12">CD</text><text x="52.5" y="12">CP</text><text x="87.5" y="12">CA</text><text x="122.5" y="12">Total</text><text x="17.5" y="27">48</text><text x="52.5" y="27">48</text><text x="87.5" y="27">32</text><text x="122.5" y="27">128</text><text x="17.5" y="42">3</text><text x="52.5" y="42">3</text><text x="87.5" y="42">2</text><text x="122.5" y="42">6</text></g>
<text class="lb f12" x="1400.5" y="413">SANEAMIENTO</text><text class="lb f12" x="1400.5" y="429">AMBIENTAL E</text><text class="lb f12" x="1400.5" y="445">INSTALACIONES</text></g>

<g id="n-microbiologia"><rect class="n br" x="1315" y="467" width="171" height="90" rx="38"/>
<g class="tg" transform="translate(1328,475)"><rect class="cb" width="140" height="45"/><rect class="w" x="105" y="30" width="35" height="15"/><use href="#g3"/><text x="17.5" y="12">CD</text><text x="52.5" y="12">CP</text><text x="87.5" y="12">CA</text><text x="122.5" y="12">Total</text><text x="17.5" y="27">48</text><text x="52.5" y="27">32</text><text x="87.5" y="27">48</text><text x="122.5" y="27">128</text><text x="17.5" y="42">3</text><text x="52.5" y="42">2</text><text x="87.5" y="42">3</text><text x="122.5" y="42">5</text></g>
<text class="lb f15" x="1400.5" y="537">MICROBIOLOGÍA</text><text class="lb f15" x="1400.5" y="556">APLICADA</text></g>

<g id="n-modelamiento"><rect class="n te" x="1315" y="579" width="171" height="99" rx="38"/>
<g class="tg" transform="translate(1332,584)"><rect class="cp" width="140" height="45"/><rect class="w" x="105" y="30" width="35" height="15"/><use href="#g3"/><text x="17.5" y="12">CD</text><text x="52.5" y="12">CP</text><text x="87.5" y="12">CA</text><text x="122.5" y="12">Total</text><text x="17.5" y="27">64</text><text x="52.5" y="27">32</text><text x="87.5" y="27">48</text><text x="122.5" y="27">144</text><text x="17.5" y="42">4</text><text x="52.5" y="42">2</text><text x="87.5" y="42">3</text><text x="122.5" y="42">6</text></g>
<text class="lb wt f13" x="1400.5" y="642">MODELAMIENTO DE</text><text class="lb wt f13" x="1400.5" y="657">SISTEMAS</text><text class="lb wt f13" x="1400.5" y="673">AMBIENTALES</text></g>

<g id="n-legislacion"><rect class="n br" x="1315" y="691" width="171" height="106" rx="38"/>
<g class="tg" transform="translate(1333,697)"><rect class="cy" width="140" height="45"/><rect class="w" x="105" y="30" width="35" height="15"/><use href="#g3"/><text x="17.5" y="12">CD</text><text x="52.5" y="12">CP</text><text x="87.5" y="12">CA</text><text x="122.5" y="12">Total</text><text x="17.5" y="27">64</text><text x="52.5" y="27">0</text><text x="87.5" y="27">32</text><text x="122.5" y="27">96</text><text x="17.5" y="42">4</text><text x="52.5" y="42">0</text><text x="87.5" y="42">2</text><text x="122.5" y="42">4</text></g>
<text class="lb f13" x="1400.5" y="757">LEGISLACIÓN Y</text><text class="lb f13" x="1400.5" y="775">GOBERNANZA</text><text class="lb f13" x="1400.5" y="793">AMBIENTAL</text></g>

<g id="n-vinculacion-2"><rect class="n lg" x="1323" y="824" width="170" height="91" rx="38"/>
<g class="tg" transform="translate(1337,834)"><rect class="cb" width="140" height="32"/><use href="#g2"/><text x="17.5" y="13">CD</text><text x="52.5" y="13">AA</text><text x="87.5" y="13">PAE</text><text x="122.5" y="13">Total</text><text x="122.5" y="29">80</text></g>
<text class="lb f15" x="1408" y="895">VINCULACIÓN II</text></g>

<!-- Column 8 -->
<g id="n-manejo-cuencas"><rect class="n br" x="1540" y="128" width="171" height="95" rx="38"/>
<g class="tg" transform="translate(1557,137)"><rect class="cb" width="140" height="45"/><rect class="w" x="105" y="30" width="35" height="15"/><use href="#g3"/><text x="17.5" y="12">CD</text><text x="52.5" y="12">CP</text><text x="87.5" y="12">CA</text><text x="122.5" y="12">Total</text><text x="17.5" y="27">48</text><text x="52.5" y="27">48</text><text x="87.5" y="27">64</text><text x="122.5" y="27">160</text><text x="17.5" y="42">3</text><text x="52.5" y="42">3</text><text x="87.5" y="42">4</text><text x="122.5" y="42">6</text></g>
<text class="lb f135" x="1625.5" y="200">MANEJO INTEGRAL</text><text class="lb f135" x="1625.5" y="220">DE CUENCAS</text></g>

<g id="n-areas-protegidas"><rect class="n br" x="1536" y="239" width="172" height="91" rx="38"/>
<g class="tg" transform="translate(1551,246)"><rect class="cy" width="140" height="45"/><rect class="w" x="105" y="30" width="35" height="15"/><use href="#g3"/><text x="17.5" y="12">CD</text><text x="52.5" y="12">CP</text><text x="87.5" y="12">CA</text><text x="122.5" y="12">Total</text><text x="17.5" y="27">48</text><text x="52.5" y="27">48</text><text x="87.5" y="27">56</text><text x="122.5" y="27">152</text><text x="17.5" y="42">3</text><text x="52.5" y="42">3</text><text x="87.5" y="42">3,5</text><text x="122.5" y="42">6</text></g>
<text class="lb f12" x="1622" y="307">MANEJO DE ÁREAS</text><text class="lb f12" x="1622" y="325">PROTEGIDAS</text></g>

<g id="n-limnologia"><rect class="n br" x="1536" y="467" width="170" height="90" rx="38"/>
<g class="tg" transform="translate(1553,475)"><rect class="cp" width="140" height="45"/><rect class="w" x="105" y="30" width="35" height="15"/><use href="#g3"/><text x="17.5" y="12">CD</text><text x="52.5" y="12">CP</text><text x="87.5" y="12">CA</text><text x="122.5" y="12">Total</text><text x="17.5" y="27">48</text><text x="52.5" y="27">48</text><text x="87.5" y="27">48</text><text x="122.5" y="27">144</text><text x="17.5" y="42">3</text><text x="52.5" y="42">3</text><text x="87.5" y="42">3</text><text x="122.5" y="42">6</text></g>
<text class="lb f16" x="1621" y="548">LIMNOLOGÍA</text></g>

<g id="n-remediacion"><rect class="n br" x="1536" y="579" width="170" height="106" rx="38"/>
<g class="tg" transform="translate(1550,587)"><rect class="cp" width="140" height="45"/><rect class="w" x="105" y="30" width="35" height="15"/><use href="#g3"/><text x="17.5" y="12">CD</text><text x="52.5" y="12">CP</text><text x="87.5" y="12">CA</text><text x="122.5" y="12">Total</text><text x="17.5" y="27">48</text><text x="52.5" y="27">48</text><text x="87.5" y="27">48</text><text x="122.5" y="27">144</text><text x="17.5" y="42">3</text><text x="52.5" y="42">3</text><text x="87.5" y="42">3</text><text x="122.5" y="42">6</text></g>
<text class="lb f13" x="1621" y="643">TÉCNICAS DE</text><text class="lb f13" x="1621" y="661">REMEDIACIÓN</text><text class="lb f13" x="1621" y="677">AMBIENTAL</text></g>

<g id="n-economia"><rect class="n br" x="1534" y="706" width="175" height="102" rx="38"/>
<g class="tg" transform="translate(1551,711)"><rect class="cb" width="140" height="45"/><rect class="w" x="105" y="30" width="35" height="15"/><use href="#g3"/><text x="17.5" y="12">CD</text><text x="52.5" y="12">CP</text><text x="87.5" y="12">CA</text><text x="122.5" y="12">Total</text><text x="17.5" y="27">64</text><text x="52.5" y="27">0</text><text x="87.5" y="27">64</text><text x="122.5" y="27">128</text><text x="17.5" y="42">4</text><text x="52.5" y="42">0</text><text x="87.5" y="42">4</text><text x="122.5" y="42">4</text></g>
<text class="lb f13" x="1621.5" y="781">ECONOMÍA DE LOS</text><text class="lb f13" x="1621.5" y="797">RECURSOS NATURALES</text></g>

<g id="n-practicas-1"><rect class="n pu" x="1536" y="824" width="170" height="91" rx="38"/>
<g class="tg" transform="translate(1549,834)"><rect class="cb" width="140" height="32"/><use href="#g2"/><text x="17.5" y="13">CD</text><text x="52.5" y="13">AA</text><text x="87.5" y="13">PAE</text><text x="122.5" y="13">Total</text><text x="122.5" y="29">80</text></g>
<text class="lb wt f13" x="1621" y="883">PRÁCTICAS</text><text class="lb wt f13" x="1621" y="901">PREPROFESIONALES I</text></g>

<!-- Column 9 -->
<g id="n-riesgos"><rect class="n br" x="1757" y="128" width="171" height="99" rx="38"/>
<g class="tg" transform="translate(1774,136)"><rect class="cy" width="140" height="45"/><rect class="w" x="105" y="30" width="35" height="15"/><use href="#g3"/><text x="17.5" y="12">CD</text><text x="52.5" y="12">CP</text><text x="87.5" y="12">CA</text><text x="122.5" y="12">Total</text><text x="17.5" y="27">64</text><text x="52.5" y="27">32</text><text x="87.5" y="27">48</text><text x="122.5" y="27">144</text><text x="17.5" y="42">4</text><text x="52.5" y="42">2</text><text x="87.5" y="42">3</text><text x="122.5" y="42">6</text></g>
<text class="lb f13" x="1842.5" y="200">GESTIÓN DE RIESGOS</text><text class="lb f13" x="1842.5" y="220">NATURALES</text></g>

<g id="n-gestion-ambiental"><rect class="n te" x="1757" y="242" width="171" height="98" rx="38" style="stroke:#c00000"/>
<g class="tg" transform="translate(1774,253)"><rect class="cb" width="140" height="45"/><rect class="w" x="105" y="30" width="35" height="15"/><use href="#g3"/><text x="17.5" y="12">CD</text><text x="52.5" y="12">CP</text><text x="87.5" y="12">CA</text><text x="122.5" y="12">Total</text><text x="17.5" y="27">64</text><text x="52.5" y="27">32</text><text x="87.5" y="27">48</text><text x="122.5" y="27">144</text><text x="17.5" y="42">4</text><text x="52.5" y="42">2</text><text x="87.5" y="42">3</text><text x="122.5" y="42">6</text></g>
<text class="lb wt f16" x="1842.5" y="315">GESTIÓN</text><text class="lb wt f16" x="1842.5" y="335">AMBIENTAL</text></g>

<g id="n-impactos"><rect class="n br" x="1757" y="347" width="181" height="103" rx="38"/>
<g class="tg" transform="translate(1774,352)"><rect class="cb" width="140" height="45"/><rect class="w" x="105" y="30" width="35" height="15"/><use href="#g3"/><text x="17.5" y="12">CD</text><text x="52.5" y="12">CP</text><text x="87.5" y="12">CA</text><text x="122.5" y="12">Total</text><text x="17.5" y="27">64</text><text x="52.5" y="27">32</text><text x="87.5" y="27">32</text><text x="122.5" y="27">128</text><text x="17.5" y="42">4</text><text x="52.5" y="42">2</text><text x="87.5" y="42">2</text><text x="122.5" y="42">6</text></g>
<text class="lb f13" x="1848" y="409">EVALUACIÓN DE</text><text class="lb f13" x="1848" y="427">IMPACTOS</text><text class="lb f13" x="1848" y="444">AMBIENTALES</text></g>

<g id="n-proyectos"><rect class="n br" x="1757" y="474" width="171" height="94" rx="38"/>
<g class="tg" transform="translate(1773,485)"><rect class="cy" width="140" height="45"/><rect class="w" x="105" y="30" width="35" height="15"/><use href="#g3"/><text x="17.5" y="12">CD</text><text x="52.5" y="12">CP</text><text x="87.5" y="12">CA</text><text x="122.5" y="12">Total</text><text x="17.5" y="27">64</text><text x="52.5" y="27">0</text><text x="87.5" y="27">48</text><text x="122.5" y="27">112</text><text x="17.5" y="42">4</text><text x="52.5" y="42">0</text><text x="87.5" y="42">3</text><text x="122.5" y="42">4</text></g>
<text class="lb f14" x="1842.5" y="544">PROYECTOS</text><text class="lb f14" x="1842.5" y="563">AMBIENTALES</text></g>

<g id="n-taller-1"><rect class="n ye" x="1757" y="703" width="170" height="99" rx="38"/>
<g class="tg" transform="translate(1773,712)"><rect class="cp" width="140" height="45"/><rect class="w" x="105" y="30" width="35" height="15"/><use href="#g3"/><text x="17.5" y="12">CD</text><text x="52.5" y="12">CP</text><text x="87.5" y="12">CA</text><text x="122.5" y="12">Total</text><text x="17.5" y="27">64</text><text x="52.5" y="27">0</text><text x="87.5" y="27">136</text><text x="122.5" y="27">200</text><text x="17.5" y="42">4</text><text x="52.5" y="42">0</text><text x="87.5" y="42">8,5</text><text x="122.5" y="42">4</text></g>
<text class="lb f145" x="1842" y="777">TALLER DE</text><text class="lb f145" x="1842" y="797">TITULACIÓN I</text></g>

<g id="n-practicas-2"><rect class="n pu" x="1757" y="824" width="170" height="90" rx="38"/>
<g class="tg" transform="translate(1772,833)"><rect class="cb" width="140" height="32"/><use href="#g2"/><text x="17.5" y="13">CD</text><text x="52.5" y="13">AA</text><text x="87.5" y="13">PAE</text><text x="122.5" y="13">Total</text><text x="122.5" y="29">160</text></g>
<text class="lb wt f13" x="1842" y="883">PRÁCTICAS</text><text class="lb wt f13" x="1842" y="901">PREPROFESIONALES II</text></g>

<!-- Column 10 -->
<g id="n-auditoria"><rect class="n br" x="1975" y="128" width="170" height="99" rx="38"/>
<g class="tg" transform="translate(1988,136)"><rect class="cb" width="140" height="45"/><rect class="w" x="105" y="30" width="35" height="15"/><use href="#g3"/><text x="17.5" y="12">CD</text><text x="52.5" y="12">CP</text><text x="87.5" y="12">CA</text><text x="122.5" y="12">Total</text><text x="17.5" y="27">64</text><text x="52.5" y="27">32</text><text x="87.5" y="27">104</text><text x="122.5" y="27">200</text><text x="17.5" y="42">4</text><text x="52.5" y="42">2</text><text x="87.5" y="42">6,5</text><text x="122.5" y="42">6</text></g>
<text class="lb f15" x="2060" y="200">AUDITORÍA</text><text class="lb f15" x="2060" y="220">AMBIENTAL</text></g>

<g id="n-ordenamiento"><rect class="n te" x="1975" y="340" width="170" height="105" rx="38"/>
<g class="tg" transform="translate(1991,352)"><rect class="cb" width="140" height="45"/><rect class="w" x="105" y="30" width="35" height="15"/><use href="#g3"/><text x="17.5" y="12">CD</text><text x="52.5" y="12">CP</text><text x="87.5" y="12">CA</text><text x="122.5" y="12">Total</text><text x="17.5" y="27">48</text><text x="52.5" y="27">48</text><text x="87.5" y="27">32</text><text x="122.5" y="27">128</text><text x="17.5" y="42">3</text><text x="52.5" y="42">3</text><text x="87.5" y="42">2</text><text x="122.5" y="42">6</text></g>
<text class="lb wt f155" x="2060" y="417">ORDENAMIENTO</text><text class="lb wt f155" x="2060" y="437">TERRITORIAL</text></g>

<g id="n-emprendimientos"><rect class="n br" x="1975" y="464" width="179" height="93" rx="38"/>
<g class="tg" transform="translate(1998,477)"><rect class="cb" width="140" height="45"/><rect class="w" x="105" y="30" width="35" height="15"/><use href="#g3"/><text x="17.5" y="12">CD</text><text x="52.5" y="12">CP</text><text x="87.5" y="12">CA</text><text x="122.5" y="12">Total</text><text x="17.5" y="27">32</text><text x="52.5" y="27">0</text><text x="87.5" y="27">48</text><text x="122.5" y="27">80</text><text x="17.5" y="42">2</text><text x="52.5" y="42">0</text><text x="87.5" y="42">3</text><text x="122.5" y="42">2</text></g>
<text class="lb f145" x="2064.5" y="545">EMPRENDIMIENTOS</text></g>

<g id="n-monitoreo"><rect class="n te" x="1984" y="582" width="173" height="111" rx="38"/>
<g class="tg" transform="translate(2000,590)"><rect class="cp" width="140" height="45"/><rect class="w" x="105" y="30" width="35" height="15"/><use href="#g3"/><text x="17.5" y="12">CD</text><text x="52.5" y="12">CP</text><text x="87.5" y="12">CA</text><text x="122.5" y="12">Total</text><text x="17.5" y="27">48</text><text x="52.5" y="27">48</text><text x="87.5" y="27">112</text><text x="122.5" y="27">208</text><text x="17.5" y="42">3</text><text x="52.5" y="42">3</text><text x="87.5" y="42">7</text><text x="122.5" y="42">6</text></g>
<text class="lb wt f155" x="2070.5" y="653">TÉCNICAS DE</text><text class="lb wt f155" x="2070.5" y="672">MONITOREO</text><text class="lb wt f155" x="2070.5" y="691">AMBIENTAL</text></g>

<g id="n-taller-2"><rect class="n ye" x="1984" y="703" width="170" height="101" rx="38"/>
<g class="tg" transform="translate(2003,713)"><rect class="cp" width="140" height="45"/><rect class="w" x="105" y="30" width="35" height="15"/><use href="#g3"/><text x="17.5" y="12">CD</text><text x="52.5" y="12">CP</text><text x="87.5" y="12">CA</text><text x="122.5" y="12">Total</text><text x="17.5" y="27">64</text><text x="52.5" y="27">0</text><text x="87.5" y="27">136</text><text x="122.5" y="27">200</text><text x="17.5" y="42">4</text><text x="52.5" y="42">0</text><text x="87.5" y="42">8,5</text><text x="122.5" y="42">4</text></g>
<text class="lb f145" x="2069" y="779">TALLER DE</text><text class="lb f145" x="2069" y="799">TITULACIÓN II</text></g>

<g id="connectors" fill="none" stroke-width="4" stroke-linecap="round" stroke-linejoin="round">
<path stroke="#ff0000" marker-end="url(#mR)" d="M192,166H238"/>
<path stroke="#ff0000" marker-end="url(#mR)" d="M410,166H442"/>
<path stroke="#ff0000" marker-end="url(#mR)" d="M613,166H635a7,7 0 0 1 14,0H669"/>
<path stroke="#ff0000" marker-end="url(#mR)" d="M841,166H849a7,7 0 0 1 14,0H864Q874,166 874,176V276Q874,286 884,286H887"/>
<path stroke="#ff0000" marker-end="url(#mR)" d="M1059,286H1072a7,7 0 0 1 14,0H1290Q1300,286 1300,296V618Q1300,628 1308,628H1314"/>
<path stroke="#00ffff" marker-end="url(#mC)" d="M196,284H211a7,7 0 0 1 14,0H238"/>
<path stroke="#00ffff" marker-end="url(#mC)" d="M410,284H442"/>
<path stroke="#00ffff" marker-end="url(#mC)" d="M613,284H635a7,7 0 0 1 14,0H669"/>
<path stroke="#00ffff" marker-end="url(#mC)" d="M841,285H846Q856,285 856,275V107Q856,95 868,95H1644Q1654,95 1654,105V109Q1654,116 1647,116Q1640,116 1640,121V127"/>
<path stroke="#cc66ff" marker-end="url(#mV)" d="M670,507V498Q670,490 662,490H650Q642,490 642,482V118Q642,108 652,108H847a7,7 0 0 1 14,0H964Q974,108 974,114V120"/>
<path stroke="#cc66ff" marker-end="url(#mV)" d="M1059,169H1104"/>
<path stroke="#cc66ff" marker-end="url(#mV)" d="M1276,168H1314"/>
<path stroke="#cc66ff" marker-end="url(#mV)" d="M1486,170H1511Q1521,170 1521,160V118Q1521,108 1531,108H1615Q1625,108 1625,118V127"/>
<path stroke="#cc66ff" marker-end="url(#mV)" d="M841,398H887"/>
<path stroke="#cc66ff" marker-end="url(#mV)" d="M1065,398H1072a6,6 0 0 1 12,0Q1091,398 1091,406V550Q1091,561 1102,561H1293a7,7 0 0 1 14,0H1391Q1401,561 1401,569V578"/>
<path stroke="#0070c0" marker-end="url(#mB)" d="M1059,517H1069Q1079,517 1079,507V176Q1079,166 1089,166H1104"/>
<path stroke="#0070c0" marker-end="url(#mB)" d="M192,511H211a7,7 0 0 1 14,0H238"/>
<path stroke="#0070c0" marker-end="url(#mB)" d="M410,512H442"/>
<path stroke="#0070c0" marker-end="url(#mB)" d="M613,508H632Q640,508 644,513Q648,517 656,517H671"/>
<path stroke="#0070c0" marker-end="url(#mB)" d="M323,467V463Q323,455 331,455H413Q423,455 423,445V353Q423,343 433,343H635a7,7 0 0 1 14,0H1066Q1072,343 1075,337Q1079,331 1085,331Q1091,331 1094,337Q1097,343 1103,343H1279a7,7 0 0 1 14,0a7,7 0 0 1 14,0H1390Q1400,343 1400,336V331"/>
<path stroke="#0070c0" marker-end="url(#mB)" d="M841,517H858Q872,517 872,531V554Q872,569 887,569H1076a7,7 0 0 1 14,0H1293a7,7 0 0 1 14,0H1363Q1373,569 1373,574V578"/>
<path stroke="#0070c0" marker-end="url(#mB)" d="M1486,285H1535"/>
<path stroke="#0070c0" marker-end="url(#mB)" d="M1708,286H1718a7,7 0 0 1 14,0H1756"/>
<path stroke="#000" marker-end="url(#mK)" d="M196,398H211a7,7 0 0 1 14,0H238"/>
<path stroke="#000" marker-end="url(#mK)" d="M410,398H442"/>
<path stroke="#000" marker-end="url(#mK)" d="M532,444V446Q532,453 540,453H635a7,7 0 0 1 14,0H1066Q1072,453 1075,447Q1079,440 1090,440Q1101,440 1104,447Q1107,453 1113,453H1183Q1193,453 1193,460V466"/>
<path stroke="#000" marker-end="url(#mK)" d="M1276,512H1279Q1287,512 1287,504V406Q1287,398 1294,398a6,6 0 0 1 12,0H1314"/>
<path stroke="#000" marker-end="url(#mK)" d="M1401,450Q1401,457 1409,457H1482Q1492,457 1492,467V617Q1492,627 1500,627a7,7 0 0 1 14,0H1518a7,7 0 0 1 14,0H1535"/>
<path stroke="#000" marker-end="url(#mK)" d="M1706,632H1710Q1718,632 1718,624V408Q1718,398 1728,398H1756"/>
<path stroke="#000" marker-end="url(#mK)" d="M1706,638H1722a7,7 0 0 1 14,0H1983"/>
<path stroke="#000" marker-end="url(#mK)" d="M1938,398H1944Q1956,398 1956,386V305Q1956,293 1968,293H2049Q2059,293 2059,283V228"/>
<path stroke="#8b4513" marker-end="url(#mBr)" d="M17,510H12Q3,510 3,500V472Q3,462 13,462H211a7,7 0 0 1 14,0H316a7,7 0 0 1 14,0H635a7,7 0 0 1 14,0H1066Q1072,462 1075,456Q1079,449 1090,449Q1101,449 1104,456Q1107,462 1113,462H1281Q1291,462 1291,472V502Q1291,512 1301,512H1314"/>
<path stroke="#8b4513" marker-end="url(#mBr)" d="M1486,512H1500a7,7 0 0 1 14,0H1518a7,7 0 0 1 14,0H1535"/>
<path stroke="#00ff00" marker-end="url(#mG)" d="M188,535H197Q205,535 205,543V614Q205,623 211,623a7,7 0 0 1 14,0H238"/>
<path stroke="#00ff00" marker-end="url(#mG)" d="M323,670V672Q323,677 331,677H611Q629,677 629,695V738Q629,753 644,753H669"/>
<path stroke="#00ff00" marker-end="url(#mG)" d="M841,753H1075Q1085,753 1085,743V332Q1085,322 1095,322H1181Q1191,322 1191,332V346"/>
<path stroke="#00ff00" marker-end="url(#mG)" d="M1276,395H1278Q1286,395 1286,387V238Q1286,228 1296,228H1610Q1620,228 1620,234V238"/>
<path stroke="#008000" marker-end="url(#mDG)" d="M613,613H620Q628,613 632,619Q636,625 644,625H662"/>
<path stroke="#008000" marker-end="url(#mDG)" d="M843,625H863"/>
<path stroke="#008000" marker-end="url(#mDG)" d="M1064,628H1078a7,7 0 0 1 14,0H1104"/>
<path stroke="#008000" d="M1276,624H1289Q1295,624 1298,627Q1300,628 1306,628"/>
<path stroke="#ff3399" marker-end="url(#mP)" d="M192,630H197Q205,630 205,638V641Q205,648 211,648a7,7 0 0 1 14,0Q229,648 229,658V674Q229,686 241,686H622a7,7 0 0 1 14,0H1078a7,7 0 0 1 14,0H1180Q1190,686 1190,691V695"/>
<path stroke="#ff3399" marker-end="url(#mP)" d="M1276,743H1314"/>
<path stroke="#ff3399" marker-end="url(#mP)" d="M1400,691Q1400,683 1408,683H1497Q1507,683 1507,673V353Q1507,343 1517,343H1733Q1743,343 1743,333V306Q1743,296 1750,296H1756"/>
<path stroke="#ff3399" marker-end="url(#mP)" d="M1709,757H1720Q1729,757 1729,748V530Q1729,520 1739,520H1756"/>
<path stroke="#ff3399" marker-end="url(#mP)" d="M1486,743H1498Q1506,743 1509,750Q1512,757 1518,757a7,7 0 0 1 14,0H1533"/>
<path stroke="#ff66cc" marker-end="url(#mLP)" d="M1711,175H1756"/>
<path stroke="#ff66cc" marker-end="url(#mLP)" d="M1843,128V118Q1843,108 1853,108H1949a7,7 0 0 1 14,0H2052a7,7 0 0 1 14,0H2146Q2158,108 2158,120V382Q2158,392 2150,392H2146"/>
<path stroke="#c00000" marker-end="url(#mDR)" d="M1711,175H1717Q1725,175 1725,183V280Q1725,290 1735,290H1756"/>
<path stroke="#c00000" marker-end="url(#mDR)" d="M1928,290H1945Q1956,290 1956,279V105Q1956,93 1968,93H2049Q2059,93 2059,103V127"/>
<path stroke="#c00000" marker-end="url(#mDR)" d="M974,914V919Q974,929 984,929H1728Q1738,929 1738,919V823Q1738,813 1748,813H1833Q1843,813 1843,808V803"/>
<path stroke="#0000ff" marker-end="url(#mBB)" d="M196,747H211a7,7 0 0 1 14,0H238"/>
<path stroke="#0000ff" marker-end="url(#mBB)" d="M414,753H424Q430,753 430,749Q430,745 436,745H443"/>
<path stroke="#0000ff" marker-end="url(#mBB)" d="M326,805V811Q326,819 334,819H1084a7,7 0 0 1 14,0H1518a7,7 0 0 1 14,0H1726Q1734,819 1734,811V760Q1734,752 1742,752H1756"/>
<path stroke="#0000ff" marker-end="url(#mBB)" d="M529,800V802Q529,808 535,808H1084a7,7 0 0 1 14,0H1181Q1191,808 1191,802V794"/>
<path stroke="#0000ff" marker-end="url(#mBB)" d="M1927,752H1955Q1960,752 1963,754Q1966,755 1971,755H1983"/>
<path stroke="#f4a460" marker-end="url(#mO)" d="M203,863H210Q218,863 218,855V238Q218,228 228,228H635a7,7 0 0 1 14,0H849a7,7 0 0 1 14,0H867a7,7 0 0 1 14,0H964Q974,228 974,233V238"/>
<path stroke="#1ef2c8" marker-end="url(#mT)" d="M1276,745H1283Q1291,745 1291,753V795Q1291,803 1283,803H1099Q1091,803 1091,811V860Q1091,868 1099,868H1104"/>
<path stroke="#1ef2c8" marker-end="url(#mT)" d="M1276,868H1322"/>
<path stroke="#1ef2c8" marker-end="url(#mT)" d="M1493,868H1515Q1525,868 1525,858V470Q1525,460 1535,460H1711a7,7 0 0 1 14,0H1833Q1843,460 1843,467V473"/>
<path stroke="#1ef2c8" marker-end="url(#mT)" d="M1928,520H1935Q1940,520 1943,515Q1946,511 1952,511H1974"/>
<path stroke="#cc0099" marker-end="url(#mM)" d="M1706,868H1730a8,8 0 0 1 16,0H1756"/>
</g>
</svg>
